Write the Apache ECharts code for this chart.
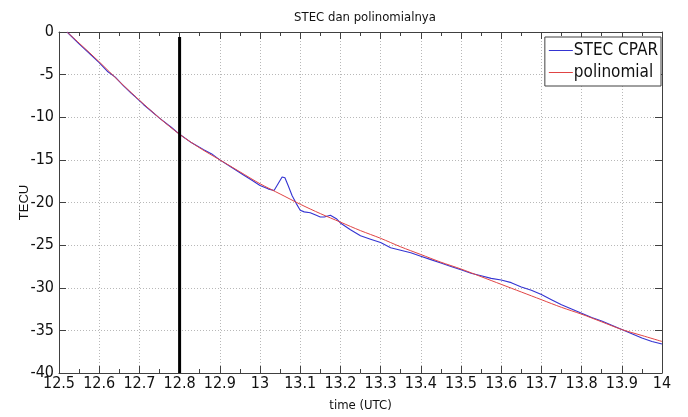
<!DOCTYPE html>
<html>
<head>
<meta charset="utf-8">
<script src="https://cdn.jsdelivr.net/npm/echarts@6/dist/echarts.min.js"></script>
<style>
html,body{margin:0;padding:0;background:#fff;}
#chart{width:688px;height:417px;}
</style>
</head>
<body>
<div id="chart"></div>
<script>
// ---- data ----
const chartTitle = 'STEC dan polinomialnya';
const xAxisName = 'time (UTC)';
const yAxisName = 'TECU';
const seriesNames = ['STEC CPAR', 'polinomial'];

const stecTime = [12.52,12.55,12.58,12.60,12.62,12.64,12.66,12.68,12.69,12.71,12.73,12.75,12.78,12.80,12.83,12.86,12.88,12.90,12.93,12.96,12.98,13.00,13.02,13.035,13.045,13.055,13.062,13.07,13.08,13.09,13.10,13.11,13.125,13.14,13.15,13.16,13.175,13.19,13.20,13.225,13.25,13.275,13.30,13.325,13.35,13.375,13.40,13.425,13.45,13.475,13.50,13.525,13.55,13.575,13.60,13.625,13.65,13.675,13.70,13.725,13.75,13.775,13.80,13.825,13.85,13.875,13.90,13.925,13.95,13.975,14.00];
const stecValues = [0.0,-1.4,-2.7,-3.6,-4.6,-5.3,-6.3,-7.2,-7.6,-8.5,-9.3,-10.1,-11.2,-12.0,-13.0,-13.8,-14.3,-15.0,-15.9,-16.8,-17.4,-18.0,-18.4,-18.6,-17.8,-17.0,-17.1,-18.0,-19.2,-20.1,-20.9,-21.1,-21.2,-21.5,-21.7,-21.7,-21.5,-21.9,-22.4,-23.2,-23.9,-24.3,-24.7,-25.3,-25.6,-25.9,-26.3,-26.7,-27.1,-27.5,-27.9,-28.3,-28.6,-28.9,-29.1,-29.4,-29.9,-30.3,-30.8,-31.4,-32.0,-32.5,-33.0,-33.5,-33.9,-34.4,-34.9,-35.4,-35.9,-36.3,-36.6];

const polyTime = [12.52,12.55,12.60,12.65,12.70,12.75,12.80,12.85,12.90,12.95,13.00,13.05,13.10,13.15,13.20,13.25,13.30,13.35,13.40,13.45,13.50,13.55,13.60,13.65,13.70,13.75,13.80,13.85,13.90,13.95,14.00];
const polyValues = [0.0,-1.3,-3.5,-5.8,-8.0,-10.1,-12.0,-13.6,-15.0,-16.4,-17.8,-19.0,-20.2,-21.3,-22.3,-23.3,-24.2,-25.2,-26.1,-27.0,-27.8,-28.7,-29.6,-30.5,-31.4,-32.3,-33.1,-34.0,-34.9,-35.6,-36.3];

const markerTime = 12.8;
const markerRange = [-0.6, -40];

const xMin = 12.5, xMax = 14, xStep = 0.1;
const yMin = -40, yMax = 0, yStep = 5;

// ---- build chart ----
const zip = (a, b) => a.map((v, i) => [v, b[i]]);
const NARROW = '"Liberation Sans Narrow", "Arial Narrow", "DejaVu Sans Condensed", sans-serif';
const NORMAL = '"Liberation Sans", Arial, sans-serif';
const boxColor = '#404040';
const gridColor = '#b8b8b8';

const chart = echarts.init(document.getElementById('chart'), null, {renderer: 'canvas'});

const baseX = {
  type: 'value', min: xMin, max: xMax, interval: xStep,
  axisLine: {show: true, onZero: false, lineStyle: {color: boxColor, width: 1}},
  axisTick: {show: true, inside: true, length: 7, lineStyle: {color: boxColor}},
  minorTick: {show: true, splitNumber: 2, length: 4, lineStyle: {color: boxColor}},
  splitLine: {show: false},
  minorSplitLine: {show: false}
};
const baseY = {
  type: 'value', min: yMin, max: yMax, interval: yStep,
  axisLine: {show: true, onZero: false, lineStyle: {color: boxColor, width: 1}},
  axisTick: {show: true, inside: true, length: 7, lineStyle: {color: boxColor}},
  splitLine: {show: false}
};

chart.setOption({
  animation: false,
  backgroundColor: '#ffffff',
  title: {
    text: chartTitle, left: 360, top: 6, textAlign: 'center',
    textStyle: {fontFamily: NARROW, fontSize: 13, fontWeight: 'normal', color: '#111'}
  },
  grid: {left: 59, right: 26, top: 32, bottom: 35, containLabel: false},
  legend: {
    data: seriesNames,
    orient: 'vertical',
    right: 27, top: 37,
    backgroundColor: '#ffffff',
    borderColor: boxColor, borderWidth: 1, borderRadius: 0,
    padding: [5, 3, 5, 4],
    itemGap: 5,
    itemWidth: 24, itemHeight: 1,
    icon: 'rect',
    textStyle: {fontFamily: NARROW, fontSize: 17, color: '#111', lineHeight: 16, padding: [0, 0, 0, -4]}
  },
  xAxis: [
    Object.assign({}, baseX, {
      position: 'bottom',
      name: xAxisName, nameLocation: 'middle', nameGap: 26, nameMoveOverlap: false,
      nameTextStyle: {fontFamily: NARROW, fontSize: 13, color: '#111'},
      axisLabel: {show: true, margin: 3, fontFamily: NARROW, fontSize: 16, color: '#111'},
      splitLine: {show: true, lineStyle: {color: gridColor, type: [1, 2], width: 1}}
    }),
    Object.assign({}, baseX, {position: 'top', axisLabel: {show: false}})
  ],
  yAxis: [
    Object.assign({}, baseY, {
      position: 'left',
      name: yAxisName, nameLocation: 'middle', nameGap: 28, nameRotate: 90, nameMoveOverlap: false,
      nameTextStyle: {fontFamily: NORMAL, fontSize: 13, color: '#111'},
      axisLabel: {show: true, margin: 5, fontFamily: NARROW, fontSize: 16, color: '#111'},
      splitLine: {show: true, lineStyle: {color: gridColor, type: [1, 2], width: 1}}
    }),
    Object.assign({}, baseY, {position: 'right', axisLabel: {show: false}})
  ],
  series: [
    {
      name: seriesNames[0], type: 'line', xAxisIndex: 0, yAxisIndex: 0,
      data: zip(stecTime, stecValues),
      showSymbol: false, symbol: 'none',
      lineStyle: {color: '#3434d2', width: 1.1},
      itemStyle: {color: '#3434d2'},
      z: 3
    },
    {
      name: seriesNames[1], type: 'line', xAxisIndex: 0, yAxisIndex: 0,
      data: zip(polyTime, polyValues),
      showSymbol: false, symbol: 'none', smooth: 0.3,
      lineStyle: {color: '#e04444', width: 1},
      itemStyle: {color: '#e04444'},
      z: 4
    },
    {
      name: 'marker', type: 'line', xAxisIndex: 0, yAxisIndex: 0,
      data: [[markerTime, markerRange[0]], [markerTime, markerRange[1]]],
      showSymbol: false, symbol: 'none',
      lineStyle: {color: '#000000', width: 3},
      z: 5
    }
  ]
});
</script>
</body>
</html>
